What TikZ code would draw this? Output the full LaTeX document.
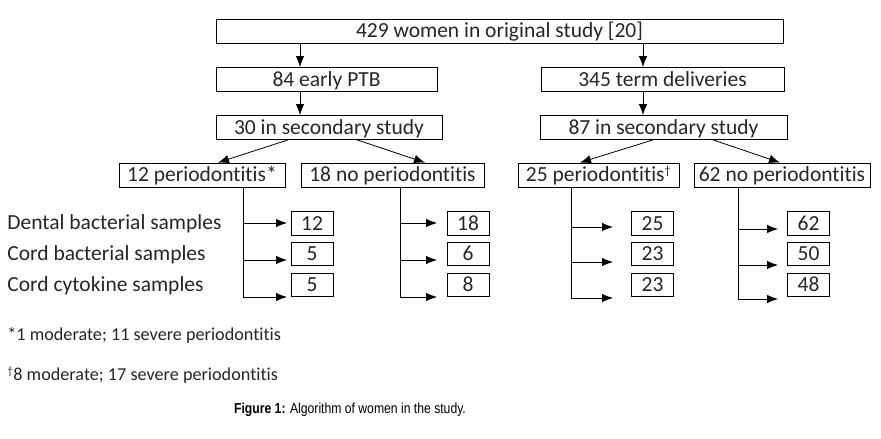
\documentclass[tikz,border=0pt]{standalone}
\usepackage{fontspec}
\setmainfont{Carlito}[Ligatures=NoCommon]
\newfontfamily\capfont[FakeStretch=0.84]{Liberation Sans}
\usetikzlibrary{arrows.meta}
\begin{document}
\begin{tikzpicture}[x=1pt,y=-1pt,
  >={Latex[length=11pt,width=8.5pt]},
  box/.style={rectangle,draw,line width=0.8pt,minimum height=24pt,inner sep=0pt,text height=16pt,text depth=2.6pt,font=\fontsize{21.5}{24}\selectfont},
  numbox/.style={box,minimum width=42pt,minimum height=23.5pt},
  rowlab/.style={anchor=west,inner sep=0pt,font=\fontsize{21.5}{24}\selectfont},
  note/.style={anchor=west,inner sep=0pt,font=\fontsize{18.2}{20}\selectfont},
  every path/.style={line width=0.8pt},
  text=black!85]
  \useasboundingbox (0,0) rectangle (881,439);
  \node[box,minimum width=567pt] (all) at (499.5,31) {429 women in original study [20]};
  \node[box,minimum width=221pt] (ptb) at (326.5,79.5) {84 early PTB};
  \node[box,minimum width=243pt] (term) at (662.5,79.5) {345 term deliveries};
  \node[box,minimum width=226pt] (secA) at (329,127.5) {30 in secondary study};
  \node[box,minimum width=247pt] (secB) at (663.5,127.5) {87 in secondary study};
  \node[box,minimum width=166pt] (pA) at (202,175) {12 periodontitis*};
  \node[box,minimum width=183pt] (nA) at (392.5,175) {18 no periodontitis};
  \node[box,minimum width=161pt] (pB) at (598.5,175) {25 periodontitis\textsuperscript{\fontsize{12}{12}\selectfont †}};
  \node[box,minimum width=176pt] (nB) at (782,175) {62 no periodontitis};

  \coordinate (colA) at (300,0);
  \coordinate (colB) at (643,0);
  \draw[->] (colA |- all.south) -- (colA |- ptb.north);
  \draw[->] (colA |- ptb.south) -- (colA |- secA.north);
  \draw[->] (colB |- all.south) -- (colB |- term.north);
  \draw[->] (colB |- term.south) -- (colB |- secB.north);
  \draw[->] ([xshift=-41pt]secA.south) -- ([xshift=16pt]pA.north);
  \draw[->] ([xshift=28pt]secA.south) -- ([xshift=32.5pt]nA.north);
  \draw[->] ([xshift=-10.5pt]secB.south) -- ([xshift=-18.5pt]pB.north);
  \draw[->] ([xshift=49.5pt]secB.south) -- ([xshift=-2pt]nB.north);

  \node[rowlab] (labA) at (7,224) {Dental bacterial samples};
  \node[rowlab] (labB) at (7,255) {Cord bacterial samples};
  \node[rowlab] (labC) at (7,286) {Cord cytokine samples};

  \foreach \h/\tx/\ex/\bx/\ya/\yb/\yc/\va/\vb/\vc in
    {pA/243/287/312/223/260/297/12/5/5, nA/400/437/468/223/260/297/18/6/8,
     pB/571/613/652.5/227/262/298/25/23/23, nB/738/778/808.5/229/265/299/62/50/48} {
    \node[numbox] (\h a) at (\bx,223.5) {\va};
    \node[numbox] (\h b) at (\bx,254) {\vb};
    \node[numbox] (\h c) at (\bx,285) {\vc};
    \coordinate (\h top) at (\tx,187);
    \coordinate (\h bot) at (\tx,\yc);
    \draw (\h top) -- (\h bot);
    \draw[->] (\tx,\ya) -- (\ex,\ya);
    \draw[->] (\tx,\yb) -- (\ex,\yb);
    \draw[->] (\h bot) -- (\ex,\yc);
  }

  \node[note] (noteA) at (7,336) {*1 moderate; 11 severe periodontitis};
  \node[note] (noteB) at (7,375) {\textsuperscript{\fontsize{11}{11}\selectfont †}8 moderate; 17 severe periodontitis};
  \node[font=\capfont\fontsize{14.5}{16}\selectfont,text=black] (cap) at (350,410) {\textbf{Figure 1:} Algorithm of women in the study.};
\end{tikzpicture}
\end{document}
